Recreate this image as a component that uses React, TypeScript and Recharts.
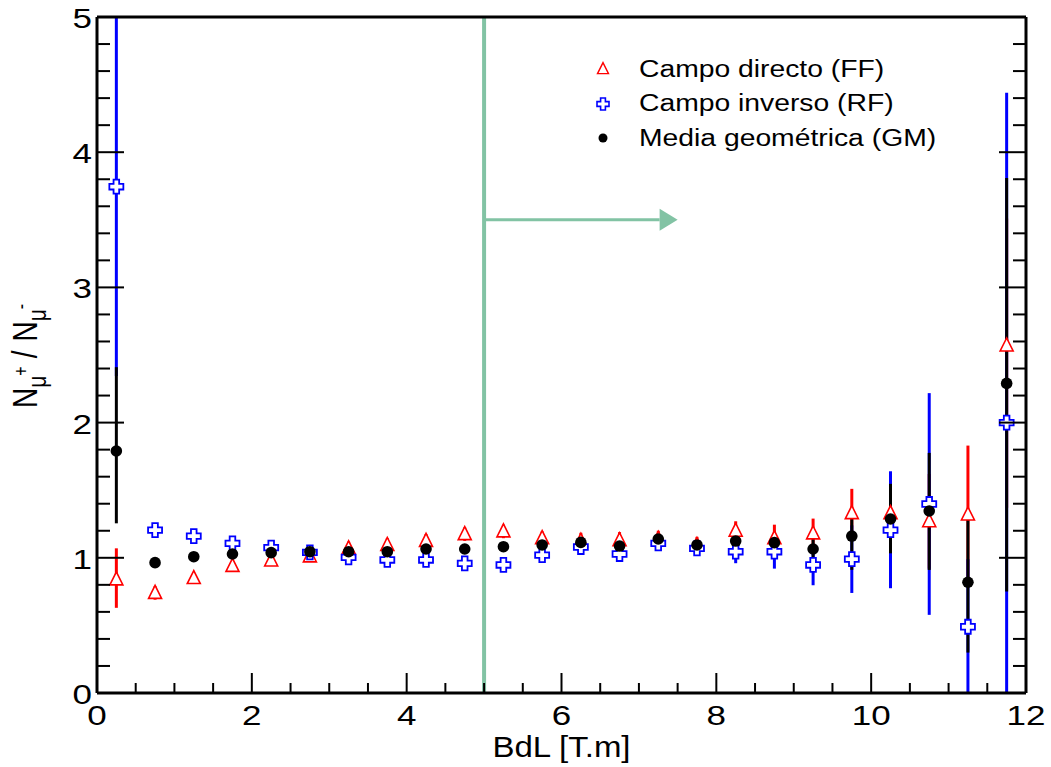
import React from 'react'
import {
  ScatterChart, Scatter, XAxis, YAxis, ErrorBar, ReferenceLine, Legend,
} from 'recharts'

// bin centres in BdL [T.m]
const BIN_CENTERS = [
  0.25, 0.75, 1.25, 1.75, 2.25, 2.75, 3.25, 3.75, 4.25, 4.75, 5.25, 5.75,
  6.25, 6.75, 7.25, 7.75, 8.25, 8.75, 9.25, 9.75, 10.25, 10.75, 11.25, 11.75,
]

// Campo directo (FF)
const FF_VALUES = [
  0.84, 0.74, 0.85, 0.94, 0.98, 1.01, 1.07, 1.095, 1.125, 1.175, 1.195, 1.145,
  1.125, 1.13, 1.14, 1.095, 1.2, 1.145, 1.18, 1.33, 1.33, 1.27, 1.32, 2.57,
]
const FF_ERR_LOW = [
  0.21, 0.05, 0.03, 0.03, 0.03, 0.03, 0.05, 0.05, 0.05, 0.05, 0.05, 0.05,
  0.06, 0.06, 0.06, 0.06, 0.07, 0.1, 0.11, 0.18, 0.25, 0.35, 0.5, 1.2,
]
const FF_ERR_HIGH = [
  0.23, 0.05, 0.03, 0.03, 0.03, 0.03, 0.05, 0.05, 0.05, 0.05, 0.05, 0.05,
  0.06, 0.06, 0.06, 0.06, 0.07, 0.1, 0.11, 0.18, 0.25, 0.35, 0.51, 0.94,
]

// Campo inverso (RF)
const RF_VALUES = [
  3.745, 1.205, 1.16, 1.107, 1.075, 1.04, 1.003, 0.984, 0.984, 0.959, 0.947, 1.02,
  1.08, 1.028, 1.107, 1.07, 1.045, 1.045, 0.947, 0.99, 1.205, 1.398, 0.49, 2.0,
]
const RF_ERR_LOW = [
  1.4, 0.04, 0.03, 0.03, 0.03, 0.03, 0.03, 0.03, 0.03, 0.03, 0.04, 0.04,
  0.04, 0.04, 0.04, 0.05, 0.085, 0.125, 0.15, 0.25, 0.43, 0.82, 0.6, 2.5,
]
const RF_ERR_HIGH = [
  1.6, 0.04, 0.03, 0.03, 0.03, 0.03, 0.03, 0.03, 0.03, 0.03, 0.04, 0.04,
  0.04, 0.04, 0.04, 0.05, 0.085, 0.1, 0.14, 0.25, 0.435, 0.82, 0.5, 2.44,
]

// Media geometrica (GM)
const GM_VALUES = [
  1.79, 0.964, 1.008, 1.028, 1.038, 1.045, 1.045, 1.045, 1.065, 1.065, 1.082, 1.095,
  1.114, 1.087, 1.139, 1.095, 1.124, 1.112, 1.065, 1.161, 1.287, 1.346, 0.819, 2.29,
]
const GM_ERR_LOW = [
  0.535, 0.03, 0.02, 0.02, 0.02, 0.02, 0.02, 0.02, 0.03, 0.03, 0.03, 0.03,
  0.03, 0.03, 0.03, 0.03, 0.05, 0.06, 0.094, 0.25, 0.254, 0.436, 0.52, 1.54,
]
const GM_ERR_HIGH = [
  0.62, 0.03, 0.02, 0.02, 0.02, 0.02, 0.02, 0.02, 0.03, 0.03, 0.03, 0.03,
  0.03, 0.03, 0.03, 0.03, 0.05, 0.06, 0.09, 0.156, 0.26, 0.43, 0.5, 1.52,
]

const SERIES_NAMES = ['Campo directo (FF)', 'Campo inverso (RF)', 'Media geométrica (GM)']

const X_TICKS = [0, 0.5, 1, 1.5, 2, 2.5, 3, 3.5, 4, 4.5, 5, 5.5, 6, 6.5, 7, 7.5, 8, 8.5, 9, 9.5, 10, 10.5, 11, 11.5, 12]
const Y_TICKS = [
  0, 0.2, 0.4, 0.6, 0.8, 1, 1.2, 1.4, 1.6, 1.8, 2, 2.2, 2.4, 2.6, 2.8,
  3, 3.2, 3.4, 3.6, 3.8, 4, 4.2, 4.4, 4.6, 4.8, 5,
]
const X_DOMAIN = [0, 12]
const Y_DOMAIN = [0, 5]

const CUT_X = 5
const ARROW_Y = 3.5
const ARROW_END = 7.5

const RED = '#ff0000'
const BLUE = '#0000ff'
const GREEN = '#82c3a4'
const FONT = '"Liberation Sans", Arial, Helvetica, sans-serif'

// error bars are cut at the frame, like the original plot
function rows(values: number[], low: number[], high: number[]) {
  return BIN_CENTERS.map((x, i) => ({
    x,
    y: values[i],
    err: [Math.min(low[i], values[i] - Y_DOMAIN[0]), Math.min(high[i], Y_DOMAIN[1] - values[i])],
  }))
}

const FF_ROWS = rows(FF_VALUES, FF_ERR_LOW, FF_ERR_HIGH)
const RF_ROWS = rows(RF_VALUES, RF_ERR_LOW, RF_ERR_HIGH)
const GM_ROWS = rows(GM_VALUES, GM_ERR_LOW, GM_ERR_HIGH)

const isMajorX = (v: number) => Math.abs(v % 2) < 1e-9
const isMajorY = (v: number) => Math.abs(v - Math.round(v)) < 1e-9

// ticks point inward like the ROOT frame
function BottomTick({ x, y, payload }: any) {
  const major = isMajorX(payload.value)
  return (
    <g>
      <line x1={x} x2={x} y1={y} y2={y - (major ? 20 : 10)} stroke="#000" strokeWidth={2} />
      {major && (
        <text transform={`translate(${x},${y + 32}) scale(1.25,1)`} textAnchor="middle"
          fontSize={28} fontFamily={FONT} fill="#000">{payload.value}</text>
      )}
    </g>
  )
}

function TopTick({ x, y, payload }: any) {
  const major = isMajorX(payload.value)
  return <line x1={x} x2={x} y1={y} y2={y + (major ? 20 : 10)} stroke="#000" strokeWidth={2} />
}

function LeftTick({ x, y, payload }: any) {
  const major = isMajorY(payload.value)
  return (
    <g>
      <line x1={x} x2={x + (major ? 27 : 13)} y1={y} y2={y} stroke="#000" strokeWidth={2} />
      {major && (
        <text transform={`translate(${x - 5},${y + 11}) scale(1.25,1)`} textAnchor="end"
          fontSize={28} fontFamily={FONT} fill="#000">{payload.value}</text>
      )}
    </g>
  )
}

function RightTick({ x, y, payload }: any) {
  const major = isMajorY(payload.value)
  return <line x1={x} x2={x - (major ? 27 : 13)} y1={y} y2={y} stroke="#000" strokeWidth={2} />
}

function XTitle({ viewBox }: any) {
  const cx = viewBox.x + viewBox.width / 2
  return (
    <text transform={`translate(${cx},${viewBox.y + 64}) scale(1.1,1)`} textAnchor="middle"
      fontSize={30} fontFamily={FONT} fill="#000">BdL [T.m]</text>
  )
}

function YTitle({ viewBox }: any) {
  const start = viewBox.y + viewBox.height / 2 + 53
  return (
    <text transform={`translate(37,${start}) scale(1.24,1) rotate(-90)`} textAnchor="start"
      fontSize={28} fontFamily={FONT} fill="#000">
      <tspan>N</tspan>
      <tspan fontSize={21} dy={7}>μ</tspan>
      <tspan fontSize={16} dy={-14}>+</tspan>
      <tspan dx={8} dy={7}>/</tspan>
      <tspan dx={9}>N</tspan>
      <tspan fontSize={21} dy={7}>μ</tspan>
      <tspan fontSize={16} dy={-14}>-</tspan>
    </text>
  )
}

function Arrow({ x1, y1, x2, y2 }: any) {
  const head = 18
  return (
    <g>
      <line x1={x1} y1={y1} x2={x2 - head} y2={y2} stroke={GREEN} strokeWidth={3} />
      <polygon points={`${x2},${y2} ${x2 - head},${y2 - 11} ${x2 - head},${y2 + 11}`} fill={GREEN} />
    </g>
  )
}

function triangle(cx: number, cy: number, s: number) {
  return `${cx},${cy - s * 0.58} ${cx - s * 0.5},${cy + s * 0.42} ${cx + s * 0.5},${cy + s * 0.42}`
}

function cross(cx: number, cy: number, s: number) {
  const a = s / 2
  const b = s * 0.2
  return [
    [-b, -a], [b, -a], [b, -b], [a, -b], [a, b], [b, b], [b, a], [-b, a], [-b, b], [-a, b], [-a, -b], [-b, -b],
  ].map(([dx, dy]) => `${cx + dx},${cy + dy}`).join(' ')
}

const TriangleMark = ({ cx, cy }: any) => (
  <polygon points={triangle(cx, cy, 13)} fill="#fff" stroke={RED} strokeWidth={1.6} />
)
const CrossMark = ({ cx, cy }: any) => (
  <polygon points={cross(cx, cy, 14)} fill="#fff" stroke={BLUE} strokeWidth={1.8} />
)
const DotMark = ({ cx, cy }: any) => <circle cx={cx} cy={cy} r={5.8} fill="#000" />

function LegendIcon({ index }: { index: number }) {
  if (index === 0) return <polygon points={triangle(13, 13, 11)} fill="#fff" stroke={RED} strokeWidth={1.4} />
  if (index === 1) return <polygon points={cross(13, 13, 12)} fill="#fff" stroke={BLUE} strokeWidth={1.6} />
  return <circle cx={13} cy={13} r={4.5} fill="#000" />
}

function LegendBox() {
  return (
    <div style={{ fontFamily: FONT, fontSize: 23, color: '#000' }}>
      {SERIES_NAMES.map((name, i) => (
        <div key={name} style={{ display: 'flex', alignItems: 'center', height: 34.5 }}>
          <svg width={26} height={26}><LegendIcon index={i} /></svg>
          <span style={{
            marginLeft: 23, display: 'inline-block', whiteSpace: 'nowrap',
            transform: 'scaleX(1.23)', transformOrigin: 'left center',
          }}>{name}</span>
        </div>
      ))}
    </div>
  )
}

const axisLine = { stroke: '#000', strokeWidth: 3 }

export default function App() {
  return (
    <div style={{ position: 'absolute', left: 0, top: 0, width: 1051, height: 767, background: '#fff' }}>
      <ScatterChart width={1051} height={767} margin={{ top: 17, right: 25, bottom: 14, left: 37 }}>
        <XAxis type="number" dataKey="x" domain={X_DOMAIN} ticks={X_TICKS} interval={0} allowDataOverflow
          height={60} tickSize={0} tickMargin={0} tickLine={false} axisLine={axisLine}
          tick={BottomTick} label={{ content: XTitle }} />
        <XAxis xAxisId="top" orientation="top" mirror type="number" domain={X_DOMAIN} ticks={X_TICKS}
          interval={0} allowDataOverflow height={30} tickSize={0} tickMargin={0} tickLine={false}
          axisLine={axisLine} tick={TopTick} />
        <YAxis type="number" dataKey="y" domain={Y_DOMAIN} ticks={Y_TICKS} interval={0} allowDataOverflow
          width={60} tickSize={0} tickMargin={0} tickLine={false} axisLine={axisLine}
          tick={LeftTick} label={{ content: YTitle }} />
        <YAxis yAxisId="right" orientation="right" mirror type="number" domain={Y_DOMAIN} ticks={Y_TICKS}
          interval={0} allowDataOverflow width={60} tickSize={0} tickMargin={0} tickLine={false}
          axisLine={axisLine} tick={RightTick} />

        <ReferenceLine x={CUT_X} stroke={GREEN} strokeWidth={4} />
        <ReferenceLine segment={[{ x: CUT_X, y: ARROW_Y }, { x: ARROW_END, y: ARROW_Y }]} shape={Arrow} />

        <Scatter name={SERIES_NAMES[0]} data={FF_ROWS} dataKey="y" shape={TriangleMark} isAnimationActive={false}>
          <ErrorBar dataKey="err" direction="y" width={0} stroke={RED} strokeWidth={3} isAnimationActive={false} />
        </Scatter>
        <Scatter name={SERIES_NAMES[1]} data={RF_ROWS} dataKey="y" shape={CrossMark} isAnimationActive={false}>
          <ErrorBar dataKey="err" direction="y" width={0} stroke={BLUE} strokeWidth={3} isAnimationActive={false} />
        </Scatter>
        <Scatter name={SERIES_NAMES[2]} data={GM_ROWS} dataKey="y" shape={DotMark} isAnimationActive={false}>
          <ErrorBar dataKey="err" direction="y" width={0} stroke="#000" strokeWidth={3} isAnimationActive={false} />
        </Scatter>

        <Legend layout="vertical" align="center" verticalAlign="middle" content={LegendBox}
          wrapperStyle={{ left: 590, top: 52, width: 420, height: 110 }} />
      </ScatterChart>
    </div>
  )
}
